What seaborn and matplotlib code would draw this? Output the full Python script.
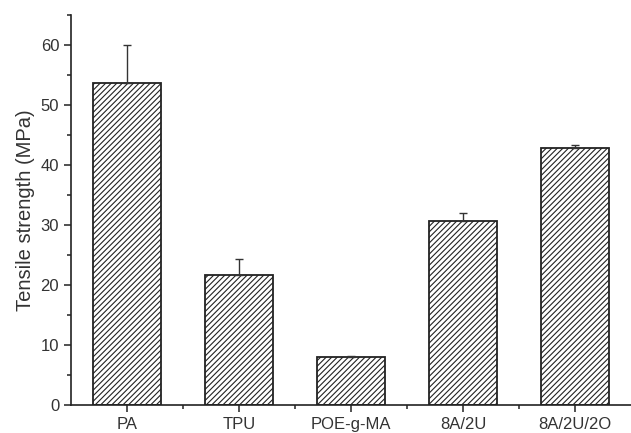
import matplotlib
matplotlib.use("Agg")
import matplotlib.pyplot as plt
import seaborn as sns
import numpy as np
from matplotlib.ticker import MultipleLocator, FixedLocator

categories = ["PA", "TPU", "POE-g-MA", "8A/2U", "8A/2U/2O"]
values = [53.7, 21.7, 8.0, 30.6, 42.9]
errors = [6.3, 2.7, 0.1, 1.4, 0.5]

sns.set_style("ticks")
plt.rcParams['font.family'] = ['Liberation Sans', 'DejaVu Sans']
plt.rcParams['hatch.color'] = '#333333'
plt.rcParams['hatch.linewidth'] = 0.8

fig = plt.figure(figsize=(6.31, 4.33), dpi=100)
ax = fig.add_axes([71/631, 1 - 405/433, 1 - 71/631, (405 - 15)/433])

sns.barplot(x=categories, y=values, color='white', edgecolor='#222222',
            linewidth=1.3, width=0.6, hatch='//////', ax=ax, errorbar=None)
ax.errorbar(np.arange(len(categories)), values,
            yerr=[np.zeros(len(errors)), errors], fmt='none',
            ecolor='#333333', elinewidth=1.0, capsize=3, capthick=1.0)

ax.set_xlim(-0.5, 4.5)
ax.set_ylim(0, 65)
ax.yaxis.set_major_locator(MultipleLocator(10))
ax.yaxis.set_minor_locator(MultipleLocator(5))
ax.xaxis.set_minor_locator(FixedLocator([0.5, 1.5, 2.5, 3.5]))
sns.despine(ax=ax)
for s in ['left', 'bottom']:
    ax.spines[s].set_linewidth(1.2)
    ax.spines[s].set_color('#222222')
ax.tick_params(axis='both', which='major', direction='out', length=5, width=1.1,
               colors='#222222', labelsize=12, labelcolor='#333333')
ax.tick_params(axis='both', which='minor', direction='out', length=3, width=1.1, colors='#222222')
ax.set_ylabel("Tensile strength (MPa)", fontsize=14.5, color='#333333', labelpad=4)
ax.set_xlabel("")

fig.savefig("out.png", dpi=100)
